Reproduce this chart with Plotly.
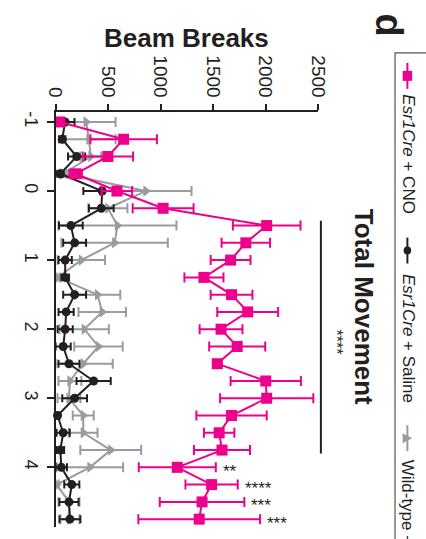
import plotly.graph_objects as go

# ---------------- data ----------------
time_h = [-1.0, -0.75, -0.5, -0.25, 0.0, 0.25, 0.5, 0.75, 1.0, 1.25, 1.5, 1.75,
          2.0, 2.25, 2.5, 2.75, 3.0, 3.25, 3.5, 3.75, 4.0, 4.25, 4.5, 4.75]

cno_mean = [40, 648, 498, 190, 584, 1024, 2011, 1812, 1667, 1413, 1676, 1830,
            1576, 1730, 1540, 2002, 2011, 1676, 1558, 1585, 1159, 1486, 1395, 1368]
cno_sem = [40, 317, 240, 60, 145, 290, 322, 231, 190, 186, 199, 290,
           204, 267, 40, 335, 444, 335, 145, 267, 367, 249, 403, 580]

saline_mean = [90, 63, 200, 45, 444, 435, 145, 181, 91, 91, 181, 100,
               91, 72, 127, 362, 181, 18, 72, 45, 54, 154, 127, 136]
saline_sem = [90, 30, 82, 30, 180, 118, 113, 109, 63, 36, 109, 72,
              72, 72, 100, 163, 118, 20, 63, 36, 54, 72, 91, 100]

wt_mean = [290, 317, 335, 72, 860, 498, 589, 562, 245, 18, 399, 444,
           272, 408, 263, 136, 127, 263, 263, 525, 326, 10, 127, 136]
wt_sem = [281, 254, 100, 30, 435, 186, 562, 507, 226, 20, 217, 226,
          235, 231, 281, 109, 109, 100, 136, 290, 317, 20, 100, 91]

y_ticks = [0, 500, 1000, 1500, 2000, 2500]
t_ticks = [-1, 0, 1, 2, 3, 4]

sig_times = [4.0, 4.25, 4.5, 4.75]
sig_labels = ["**", "****", "***", "***"]
bar_start, bar_end = 0.43, 3.8
bar_label_time = 2.18
bar_label = "****"

legend_labels = ["<i>Esr1Cre</i> + CNO", "<i>Esr1Cre</i> + Saline", "Wild-type + CNO"]

# ---------------- style ----------------
PINK = "#EC008C"
BLACK = "#231F20"
GRAY = "#999B9E"
W, H = 426, 539
FONT = "Liberation Sans"


def px(x):
    return x / W


def py(y):
    return 1 - y / H


def minus(m, e):
    return [min(a, b) for a, b in zip(m, e)]


fig = go.Figure()

fig.add_trace(go.Scatter(
    x=wt_mean, y=time_h, mode="lines+markers",
    line=dict(color=GRAY, width=2),
    marker=dict(symbol="triangle-right", size=10, color=GRAY),
    error_x=dict(type="data", array=wt_sem, arrayminus=minus(wt_mean, wt_sem),
                 symmetric=False, color=GRAY, thickness=2, width=5),
    cliponaxis=False, showlegend=False))

fig.add_trace(go.Scatter(
    x=saline_mean, y=time_h, mode="lines+markers",
    line=dict(color=BLACK, width=2),
    marker=dict(symbol="circle", size=9, color=BLACK),
    error_x=dict(type="data", array=saline_sem, arrayminus=minus(saline_mean, saline_sem),
                 symmetric=False, color=BLACK, thickness=2, width=4),
    cliponaxis=False, showlegend=False))

fig.add_trace(go.Scatter(
    x=cno_mean, y=time_h, mode="lines+markers",
    line=dict(color=PINK, width=2),
    marker=dict(symbol="square", size=11, color=PINK),
    error_x=dict(type="data", array=cno_sem, arrayminus=minus(cno_mean, cno_sem),
                 symmetric=False, color=PINK, thickness=2, width=5),
    cliponaxis=False, showlegend=False))

annotations = []
# Significance stars next to late time points
for t, lab in zip(sig_times, sig_labels):
    i = time_h.index(t)
    annotations.append(dict(
        x=cno_mean[i] + cno_sem[i], y=t, xref="x", yref="y",
        text=lab, showarrow=False, xanchor="left", yanchor="middle",
        xshift=5, yshift=-4, font=dict(size=17, color=BLACK, family=FONT)))

# Bar label
annotations.append(dict(
    x=px(343), y=bar_label_time, xref="paper", yref="y",
    text=bar_label, showarrow=False, textangle=90,
    xanchor="center", yanchor="middle",
    font=dict(size=16, color=BLACK, family=FONT)))

# Titles
annotations.append(dict(
    x=px(186), y=py(37), xref="paper", yref="paper", text="<b>Beam Breaks</b>",
    showarrow=False, xanchor="center", yanchor="middle",
    font=dict(size=26, color=BLACK, family=FONT)))
annotations.append(dict(
    x=px(372), y=py(306), xref="paper", yref="paper", text="<b>Total Movement</b>",
    showarrow=False, textangle=90, xanchor="center", yanchor="middle",
    font=dict(size=26, color=BLACK, family=FONT)))
annotations.append(dict(
    x=px(399), y=py(24), xref="paper", yref="paper", text="<b>d</b>",
    showarrow=False, textangle=90, xanchor="center", yanchor="middle",
    font=dict(size=38, color=BLACK, family=FONT)))

# Legend texts (rotated)
leg_text_centers = [154, 338, 524]
for lab, yc in zip(legend_labels, leg_text_centers):
    annotations.append(dict(
        x=px(419), y=py(yc), xref="paper", yref="paper", text=lab,
        showarrow=False, textangle=90, xanchor="center", yanchor="middle",
        font=dict(size=17, color=BLACK, family=FONT)))

shapes = []
# significance bar
shapes.append(dict(type="line", xref="paper", yref="y", x0=px(327), x1=px(327),
                   y0=bar_start, y1=bar_end, line=dict(color=BLACK, width=2)))
# legend box
shapes.append(dict(type="rect", xref="paper", yref="paper", x0=px(405), x1=px(450),
                   y0=py(52), y1=py(600), line=dict(color="#555555", width=1.2)))
# legend symbols
leg_centers = [75, 250, 438]
leg_colors = [PINK, BLACK, GRAY]
for yc, col in zip(leg_centers, leg_colors):
    shapes.append(dict(type="line", xref="paper", yref="paper", x0=px(418), x1=px(418),
                       y0=py(yc - 13), y1=py(yc + 13), line=dict(color=col, width=2)))
shapes.append(dict(type="rect", xref="paper", yref="paper", x0=px(413), x1=px(423),
                   y0=py(70), y1=py(80), fillcolor=PINK, line=dict(width=0)))
shapes.append(dict(type="circle", xref="paper", yref="paper", x0=px(414), x1=px(422),
                   y0=py(246), y1=py(254), fillcolor=BLACK, line=dict(width=0)))
shapes.append(dict(type="path", xref="paper", yref="paper",
                   path=f"M {px(413)} {py(433)} L {px(423)} {py(438)} L {px(413)} {py(443)} Z",
                   fillcolor=GRAY, line=dict(width=0)))

fig.update_layout(
    width=W, height=H,
    margin=dict(l=0, r=0, t=0, b=0),
    paper_bgcolor="white", plot_bgcolor="white",
    font=dict(family=FONT, color=BLACK),
    xaxis=dict(side="top", range=[0, 2500], domain=[px(48), px(324)],
               tickvals=y_ticks, ticktext=[str(v) for v in y_ticks],
               tickangle=90, ticks="outside", ticklen=6, tickwidth=2, tickcolor=BLACK,
               showline=True, linewidth=2, linecolor=BLACK,
               showgrid=False, zeroline=False,
               tickfont=dict(size=19, color=BLACK, family=FONT)),
    yaxis=dict(range=[4.864, -1.14], domain=[py(527), py(111.5)],
               tickvals=t_ticks, ticktext=[str(v) for v in t_ticks],
               tickangle=90, ticks="outside", ticklen=7, tickwidth=2, tickcolor=BLACK,
               showline=True, linewidth=2, linecolor=BLACK,
               showgrid=False, zeroline=False,
               tickfont=dict(size=18, color=BLACK, family=FONT)),
    annotations=annotations,
    shapes=shapes,
    showlegend=False,
)

fig.write_html("out.html")
